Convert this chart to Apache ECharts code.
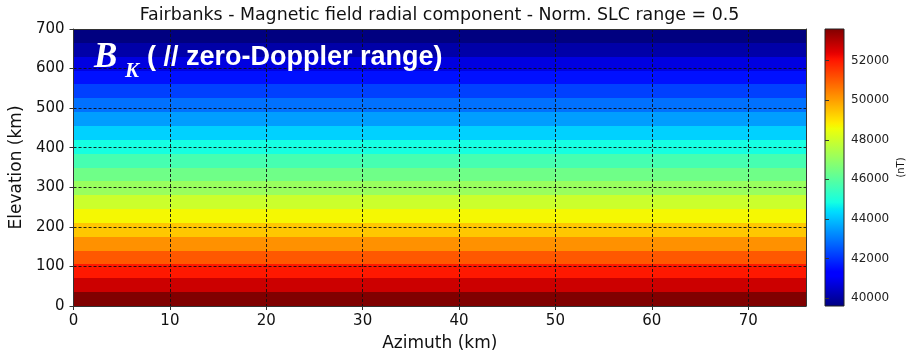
<!DOCTYPE html>
<html>
<head>
<meta charset="utf-8">
<script src="https://cdn.jsdelivr.net/npm/echarts@6/dist/echarts.min.js"></script>
<style>
  html, body { margin: 0; padding: 0; background: #ffffff; }
  #chart { width: 907px; height: 357px; }
</style>
</head>
<body>
<div id="chart"></div>
<script>
// Lower edge of each 35 km elevation band (km)
const bandBottoms = [0, 35, 70, 105, 140, 175, 210, 245, 280, 315, 350, 385, 420, 455, 490, 525, 560, 595, 630, 665];
const bandHeight = 35;
// Azimuth extent of the scene (km)
const azimuthRange = [0, 76];
// Radial magnetic field per elevation band (nT), bottom to top
const fieldValues = [53600, 52680, 51990, 51040, 50200, 49390, 48670, 47940, 47100, 46390,
                     45690, 44860, 44220, 43520, 42890, 42230, 41570, 40780, 40090, 39600];
// Colour scale limits (nT)
const colorRange = [39600, 53600];
// Tick labels
const xTicks = [0, 10, 20, 30, 40, 50, 60, 70];
const yTicks = [0, 100, 200, 300, 400, 500, 600, 700];
const colorbarTicks = [40000, 42000, 44000, 46000, 48000, 50000, 52000];

// matplotlib "jet" colour map
function jet(t) {
  const seg = (pts) => {
    for (let i = 1; i < pts.length; i++) {
      if (t <= pts[i][0]) {
        const [x0, y0] = pts[i - 1], [x1, y1] = pts[i];
        return y0 + (y1 - y0) * (t - x0) / (x1 - x0);
      }
    }
    return pts[pts.length - 1][1];
  };
  const r = seg([[0, 0], [0.35, 0], [0.66, 1], [0.89, 1], [1, 0.5]]);
  const g = seg([[0, 0], [0.125, 0], [0.375, 1], [0.64, 1], [0.91, 0], [1, 0]]);
  const b = seg([[0, 0.5], [0.11, 1], [0.34, 1], [0.65, 0], [1, 0]]);
  const c = (v) => Math.round(Math.max(0, Math.min(1, v)) * 255);
  return 'rgb(' + c(r) + ',' + c(g) + ',' + c(b) + ')';
}
const JET_STEPS = 128;
const jetColors = [];
for (let i = 0; i <= JET_STEPS; i++) jetColors.push(jet(i / JET_STEPS));
const jetGradientStops = jetColors.map((c, i) => ({ offset: i / JET_STEPS, color: c }));

const bandData = bandBottoms.map((b, i) => [azimuthRange[0], azimuthRange[1], b, b + bandHeight, fieldValues[i]]);

const FONT = 'DejaVu Sans';
const GRID = { left: 73, top: 29, width: 733, height: 277 };
const CBAR = { left: 825, top: 29, width: 21, height: 277 };
const dashed = { color: '#111', width: 0.9, type: [3, 2] };
const spine = { color: '#333', width: 1 };

const chart = echarts.init(document.getElementById('chart'), null, { renderer: 'canvas' });
chart.setOption({
  animation: false,
  backgroundColor: '#ffffff',
  grid: [
    Object.assign({ containLabel: false }, GRID),
    Object.assign({ containLabel: false }, CBAR)
  ],
  visualMap: {
    show: false,
    type: 'continuous',
    min: colorRange[0],
    max: colorRange[1],
    dimension: 4,
    seriesIndex: 0,
    inRange: { color: jetColors }
  },
  xAxis: [
    {
      gridIndex: 0, type: 'value', position: 'bottom', z: 10,
      min: azimuthRange[0], max: azimuthRange[1], interval: 10,
      name: 'Azimuth (km)', nameLocation: 'middle', nameGap: 29,
      nameTextStyle: { fontFamily: FONT, fontSize: 17, color: '#111' },
      axisLine: { show: true, lineStyle: spine },
      axisTick: { show: true, length: 4, lineStyle: { color: '#333' }, customValues: xTicks },
      axisLabel: { fontFamily: FONT, fontSize: 15, color: '#111', margin: 8, customValues: xTicks },
      splitLine: { show: true, lineStyle: dashed }
    },
    {
      gridIndex: 0, type: 'value', position: 'top', z: 10,
      min: azimuthRange[0], max: azimuthRange[1],
      axisLine: { show: true, onZero: false, lineStyle: spine },
      axisTick: { show: false }, axisLabel: { show: false }, splitLine: { show: false }
    },
    {
      gridIndex: 1, type: 'value', min: 0, max: 1, show: false
    }
  ],
  yAxis: [
    {
      gridIndex: 0, type: 'value', position: 'left', z: 10,
      min: 0, max: 700, interval: 100,
      name: 'Elevation (km)', nameLocation: 'middle', nameGap: 47, nameRotate: 90,
      nameTextStyle: { fontFamily: FONT, fontSize: 17, color: '#111' },
      axisLine: { show: true, lineStyle: spine },
      axisTick: { show: true, length: 4, lineStyle: { color: '#333' }, customValues: yTicks },
      axisLabel: { fontFamily: FONT, fontSize: 15, color: '#111', margin: 9, customValues: yTicks },
      splitLine: { show: true, lineStyle: dashed }
    },
    {
      gridIndex: 0, type: 'value', position: 'right', z: 10,
      min: 0, max: 700,
      axisLine: { show: true, onZero: false, lineStyle: spine },
      axisTick: { show: false }, axisLabel: { show: false }, splitLine: { show: false }
    },
    {
      gridIndex: 1, type: 'value', position: 'right', z: 10,
      min: colorRange[0], max: colorRange[1],
      name: '(nT)', nameLocation: 'middle', nameGap: 52, nameRotate: 90,
      nameTextStyle: { fontFamily: FONT, fontSize: 10, color: '#111' },
      axisLine: { show: false },
      axisTick: { show: true, length: 4, lineStyle: { color: '#333' }, customValues: colorbarTicks },
      axisLabel: {
        fontFamily: FONT, fontSize: 12, color: '#222', margin: 7, customValues: colorbarTicks,
        formatter: (v) => String(v)
      },
      splitLine: { show: false }
    }
  ],
  series: [
    {
      // Field value per elevation band, coloured through the visual map
      type: 'custom',
      xAxisIndex: 0, yAxisIndex: 0,
      encode: { x: [0, 1], y: [2, 3] },
      clip: true,
      data: bandData,
      renderItem: function (params, api) {
        const p0 = api.coord([api.value(0), api.value(3)]);
        const p1 = api.coord([api.value(1), api.value(2)]);
        const y0 = Math.round(p0[1]), y1 = Math.round(p1[1]);
        return {
          type: 'rect',
          shape: { x: p0[0], y: y0, width: p1[0] - p0[0], height: y1 - y0 },
          style: { fill: api.visual('color'), stroke: null }
        };
      }
    },
    {
      // Colour bar spanning the colour scale limits
      type: 'custom',
      xAxisIndex: 2, yAxisIndex: 2,
      encode: { y: [0, 1] },
      clip: false,
      data: [[colorRange[0], colorRange[1]]],
      renderItem: function (params, api) {
        const pLow = api.coord([0, api.value(0)]);
        const pHigh = api.coord([1, api.value(1)]);
        return {
          type: 'rect',
          shape: { x: pLow[0], y: pHigh[1], width: pHigh[0] - pLow[0], height: pLow[1] - pHigh[1] },
          style: {
            fill: { type: 'linear', x: 0, y: 1, x2: 0, y2: 0, colorStops: jetGradientStops },
            stroke: '#222', lineWidth: 1
          }
        };
      }
    }
  ],
  graphic: [
    {
      type: 'text', x: 439.5, y: 15, z: 20,
      style: {
        text: 'Fairbanks - Magnetic field radial component - Norm. SLC range = 0.5',
        font: '17.4px "DejaVu Sans"', fill: '#111', align: 'center', verticalAlign: 'middle'
      }
    },
    {
      type: 'text', x: 94, y: 58, z: 20,
      style: { text: 'B', font: 'italic bold 35px "Liberation Serif"', fill: '#fff', align: 'left', verticalAlign: 'middle' }
    },
    {
      type: 'text', x: 125, y: 71.5, z: 20,
      style: { text: 'K', font: 'italic bold 21px "Liberation Serif"', fill: '#fff', align: 'left', verticalAlign: 'middle' }
    },
    {
      type: 'text', x: 147, y: 57.3, z: 20,
      style: { text: '( // zero-Doppler range)', font: 'bold 27px "Liberation Sans"', fill: '#fff', align: 'left', verticalAlign: 'middle' }
    }
  ]
});
</script>
</body>
</html>
